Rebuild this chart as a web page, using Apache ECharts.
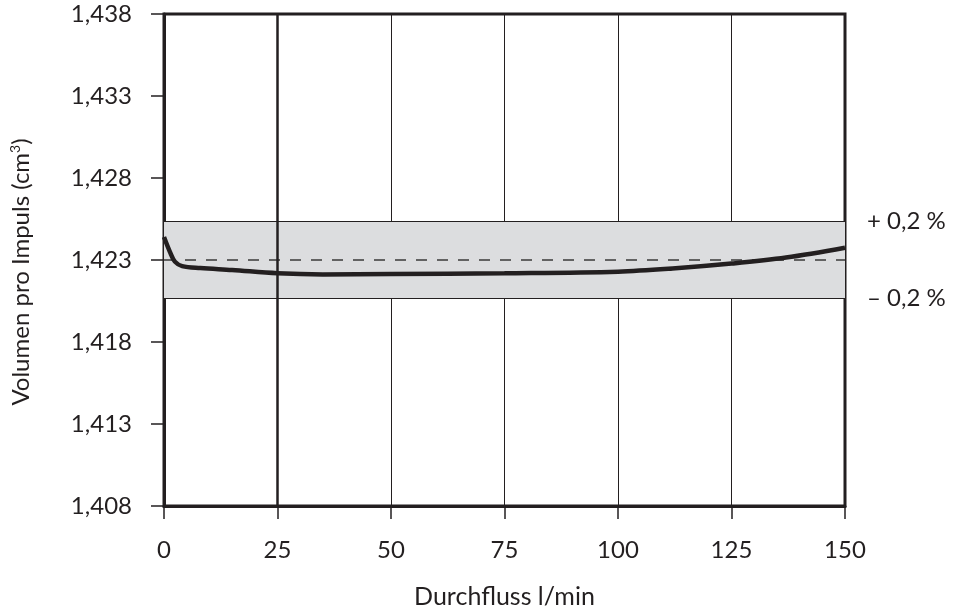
<!DOCTYPE html>
<html>
<head>
<meta charset="utf-8">
<script src="https://cdn.jsdelivr.net/npm/echarts@6/dist/echarts.min.js"></script>
<style>
html,body{margin:0;padding:0;background:#fff;}
#c{width:962px;height:609px;}
</style>
</head>
<body>
<div id="c"></div>
<script>
// Data
var flowX = [0, 1.3, 2.4, 4, 8, 15, 25, 35, 50, 75, 100, 112, 125, 137, 150];
var volumeY = [1.4244, 1.4235, 1.4229, 1.42263, 1.42251, 1.42239, 1.42219, 1.42212, 1.42214, 1.42219, 1.42229, 1.42248, 1.42278, 1.42315, 1.42375];
var xTicks = [0, 25, 50, 75, 100, 125, 150];
var yTicks = [1.408, 1.413, 1.418, 1.423, 1.428, 1.433, 1.438];
var nominal = 1.423;
var bandUpper = 1.42535;
var bandLower = 1.42065;
var bandLabels = ['+ 0,2 %', '\u2013 0,2 %'];
var xName = 'Durchfluss l/min';
var yNameBase = 'Volumen pro Impuls (cm';
var yNameSup = '3';

var FONT = 'Lato';
var TXT = '#231f20';
var DARK = '#231f20';

var chart = echarts.init(document.getElementById('c'), null, {renderer: 'canvas'});
var linePts = flowX.map(function (x, i) { return [x, volumeY[i]]; });

chart.setOption({
  animation: false,
  backgroundColor: '#fff',
  textStyle: {fontFamily: FONT},
  grid: {
    left: 164, right: 117, top: 14, bottom: 103,
    containLabel: false, outerBoundsMode: 'none',
    show: true, borderColor: DARK, borderWidth: 3, backgroundColor: 'transparent'
  },
  xAxis: {
    type: 'value', min: xTicks[0], max: xTicks[xTicks.length - 1], interval: 25,
    name: xName, nameLocation: 'middle', nameGap: 78,
    nameTextStyle: {fontFamily: FONT, fontSize: 25, color: TXT},
    axisLine: {show: true, lineStyle: {color: DARK, width: 3}},
    axisTick: {show: true, inside: false, length: 13, lineStyle: {color: DARK, width: 1.5}},
    axisLabel: {margin: 32, fontFamily: FONT, fontSize: 24, color: TXT},
    splitLine: {show: true, lineStyle: {color: DARK, width: 1}}
  },
  yAxis: {
    type: 'value', min: yTicks[0], max: yTicks[yTicks.length - 1],
    name: '{b|' + yNameBase + '}{s|' + yNameSup + '}{b|)}',
    nameLocation: 'middle', nameGap: 130,
    nameTextStyle: {
      fontFamily: FONT, fontSize: 24, color: TXT, padding: [0, 24, 0, 0],
      rich: {
        b: {fontFamily: FONT, fontSize: 24, color: TXT},
        s: {fontFamily: FONT, fontSize: 14, color: TXT, verticalAlign: 'top', padding: [0, 0, 12, 0]}
      }
    },
    axisLine: {show: true, lineStyle: {color: DARK, width: 3}},
    axisTick: {show: true, inside: false, length: 13, customValues: yTicks, lineStyle: {color: DARK, width: 1.5}},
    axisLabel: {
      margin: 32, fontFamily: FONT, fontSize: 24, color: TXT, customValues: yTicks,
      formatter: function (v) { return v.toFixed(3).replace('.', ','); }
    },
    splitLine: {show: false}
  },
  series: [
    {
      type: 'line',
      data: linePts,
      smooth: 0.35,
      showSymbol: false,
      symbol: 'none',
      z: 5,
      lineStyle: {color: DARK, width: 4.5},
      markArea: {
        silent: true,
        itemStyle: {color: '#dcdddf'},
        data: [[{yAxis: bandLower}, {yAxis: bandUpper}]]
      },
      markLine: {
        silent: true,
        symbol: 'none',
        precision: 6,
        animation: false,
        data: [
          {yAxis: nominal, lineStyle: {color: '#3a3a3a', width: 1.5, type: [11, 10]}, label: {show: false}},
          {yAxis: bandUpper, lineStyle: {color: DARK, width: 1.2, type: 'solid'},
            label: {show: true, position: 'end', distance: 22, formatter: bandLabels[0], fontFamily: FONT, fontSize: 24, color: TXT}},
          {yAxis: bandLower, lineStyle: {color: DARK, width: 1.2, type: 'solid'},
            label: {show: true, position: 'end', distance: 22, formatter: bandLabels[1], fontFamily: FONT, fontSize: 24, color: TXT}},
          {xAxis: 25, lineStyle: {color: DARK, width: 2.5, type: 'solid'}, label: {show: false}}
        ]
      }
    }
  ]
});
</script>
</body>
</html>
